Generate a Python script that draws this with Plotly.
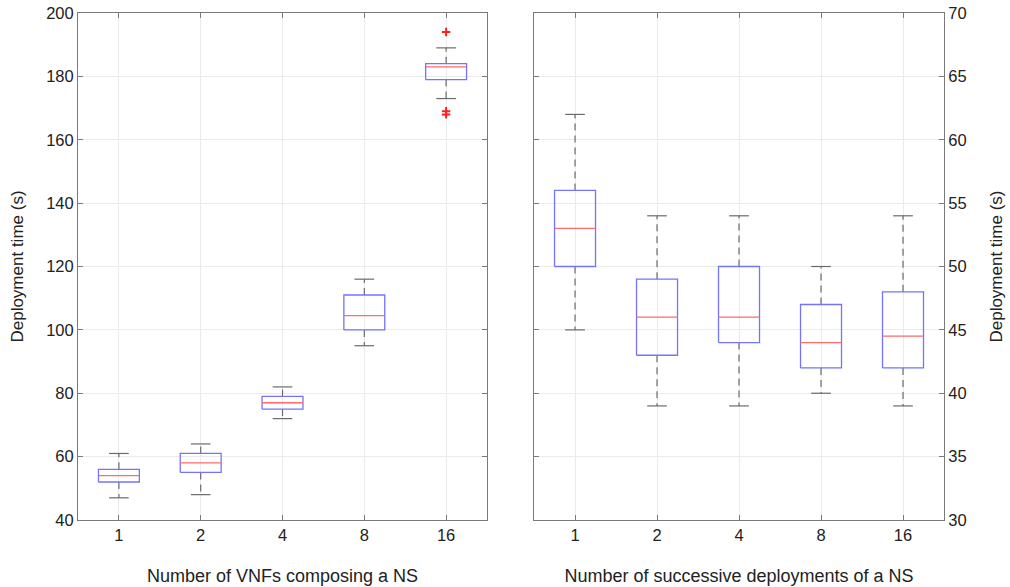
import plotly.graph_objects as go

# ---------------- data ----------------
vnf_labels = ["1", "2", "4", "8", "16"]
vnf_lower = [47, 48, 72, 95, 173]
vnf_q1 = [52, 55, 75, 100, 179]
vnf_median = [54, 58, 77, 104.5, 183]
vnf_q3 = [56, 61, 79, 111, 184]
vnf_upper = [61, 64, 82, 116, 189]
vnf_outlier_cat = [5, 5, 5]
vnf_outlier_val = [194, 169, 168]

succ_labels = ["1", "2", "4", "8", "16"]
succ_lower = [45, 39, 39, 40, 39]
succ_q1 = [50, 43, 44, 42, 42]
succ_median = [53, 46, 46, 44, 44.5]
succ_q3 = [56, 49, 50, 47, 48]
succ_upper = [62, 54, 54, 50, 54]

# ---------------- style ----------------
BOX_HW = 0.25
CAP_HW = 0.12
BOX_COLOR = "#7373ff"
MED_COLOR = "#ff6b6b"
WHISK_COLOR = "#6a6a6a"
FONT = "Liberation Sans, Arial, sans-serif"
AXIS_COLOR = "#7a7a7a"
GRID_COLOR = "#ebebeb"


def box_traces(lower, q1, med, q3, upper, xa, ya):
    bx, by, mx, my, wx, wy, cx, cy = [], [], [], [], [], [], [], []
    for i in range(len(q1)):
        p = i + 1
        bx += [p - BOX_HW, p + BOX_HW, p + BOX_HW, p - BOX_HW, p - BOX_HW, None]
        by += [q1[i], q1[i], q3[i], q3[i], q1[i], None]
        mx += [p - BOX_HW, p + BOX_HW, None]
        my += [med[i], med[i], None]
        wx += [p, p, None, p, p, None]
        wy += [q3[i], upper[i], None, q1[i], lower[i], None]
        cx += [p - CAP_HW, p + CAP_HW, None, p - CAP_HW, p + CAP_HW, None]
        cy += [upper[i], upper[i], None, lower[i], lower[i], None]
    common = dict(mode="lines", xaxis=xa, yaxis=ya, showlegend=False, hoverinfo="skip")
    return [
        go.Scatter(x=wx, y=wy, line=dict(color=WHISK_COLOR, width=1.2, dash="7px,5px"), **common),
        go.Scatter(x=cx, y=cy, line=dict(color=WHISK_COLOR, width=1.2), **common),
        go.Scatter(x=bx, y=by, line=dict(color=BOX_COLOR, width=1.3), **common),
        go.Scatter(x=mx, y=my, line=dict(color=MED_COLOR, width=1.3), **common),
    ]


traces = []
traces += box_traces(vnf_lower, vnf_q1, vnf_median, vnf_q3, vnf_upper, "x", "y")
traces.append(go.Scatter(x=vnf_outlier_cat, y=vnf_outlier_val, mode="markers",
                         marker=dict(symbol="cross-thin", size=6, color="#ff2020",
                                     line=dict(color="#ff2020", width=2)),
                         xaxis="x", yaxis="y", showlegend=False, hoverinfo="skip"))
traces += box_traces(succ_lower, succ_q1, succ_median, succ_q3, succ_upper, "x2", "y2")

fig = go.Figure(traces)

axis_common = dict(
    showline=True, linecolor=AXIS_COLOR, linewidth=1, mirror="ticks",
    ticks="inside", ticklen=5, tickcolor=AXIS_COLOR,
    showgrid=True, gridcolor=GRID_COLOR, gridwidth=1, zeroline=False,
    tickfont=dict(family=FONT, size=16.5, color="#222"),
    automargin=False,
)

fig.update_layout(
    width=1010, height=587,
    margin=dict(l=78, r=66, t=13, b=67, autoexpand=False),
    paper_bgcolor="white", plot_bgcolor="white",
    font=dict(family=FONT, color="#222"),
    xaxis=dict(domain=[0, 0.4723], range=[0.5, 5.5], tickvals=[1, 2, 3, 4, 5],
               ticktext=vnf_labels, anchor="y",
               title=dict(text="Number of VNFs composing a NS", font=dict(size=18), standoff=26),
               **axis_common),
    yaxis=dict(range=[40, 200], dtick=20, anchor="x",
               title=dict(text="Deployment time (s)", font=dict(size=17), standoff=18),
               **axis_common),
    xaxis2=dict(domain=[0.5266, 1], range=[0.5, 5.5], tickvals=[1, 2, 3, 4, 5],
                ticktext=succ_labels, anchor="y2",
                title=dict(text="Number of successive deployments of a NS", font=dict(size=18), standoff=26),
                **axis_common),
    yaxis2=dict(range=[30, 70], dtick=5, anchor="x2", side="right",
                title=dict(text="Deployment time (s)", font=dict(size=17), standoff=24),
                **axis_common),
)

fig.write_html("out.html", config={"displayModeBar": False},
               post_script="document.body.style.margin='0';")
